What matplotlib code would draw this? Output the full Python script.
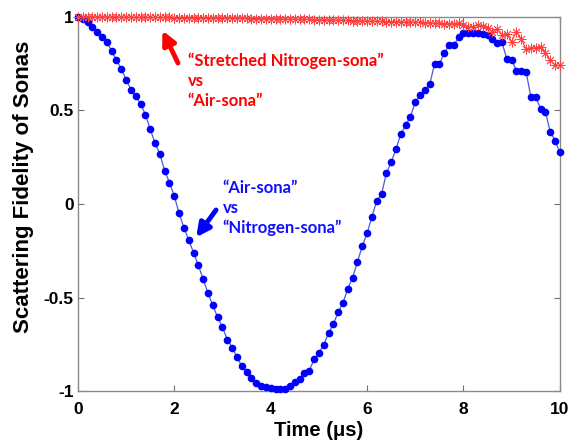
import numpy as np
import matplotlib.pyplot as plt

# Air-sona vs Nitrogen-sona (blue dots)
air_vs_n2 = [1.0, 0.99, 0.973, 0.945, 0.92, 0.89, 0.865, 0.817, 0.768, 0.722,
             0.665, 0.611, 0.575, 0.535, 0.478, 0.401, 0.325, 0.267, 0.178, 0.114,
             0.043, -0.05, -0.127, -0.193, -0.26, -0.328, -0.403, -0.478, -0.542, -0.606,
             -0.659, -0.724, -0.767, -0.817, -0.866, -0.897, -0.927, -0.954, -0.97, -0.977,
             -0.984, -0.988, -0.991, -0.986, -0.973, -0.95, -0.937, -0.902, -0.891, -0.83,
             -0.795, -0.754, -0.691, -0.642, -0.578, -0.528, -0.453, -0.394, -0.309, -0.225,
             -0.157, -0.068, 0.016, 0.052, 0.164, 0.223, 0.294, 0.373, 0.421, 0.467,
             0.544, 0.58, 0.61, 0.64, 0.747, 0.747, 0.806, 0.847, 0.847, 0.891,
             0.915, 0.915, 0.915, 0.915, 0.909, 0.902, 0.881, 0.859, 0.863, 0.775,
             0.77, 0.713, 0.71, 0.706, 0.571, 0.571, 0.51, 0.494, 0.387, 0.339,
             0.276]

# Stretched Nitrogen-sona vs Air-sona (red stars)
stretched_vs_air = [1.0, 1.0, 1.0, 1.0, 1.0, 1.0, 1.0, 0.999, 0.999, 0.999,
                    0.999, 0.999, 0.998, 0.998, 0.998, 0.998, 0.997, 0.997, 0.997, 0.997,
                    0.996, 0.996, 0.996, 0.996, 0.995, 0.995, 0.995, 0.994, 0.994, 0.994,
                    0.993, 0.993, 0.993, 0.992, 0.992, 0.992, 0.991, 0.991, 0.99, 0.99,
                    0.99, 0.989, 0.989, 0.988, 0.988, 0.987, 0.987, 0.986, 0.986, 0.985,
                    0.985, 0.984, 0.983, 0.983, 0.982, 0.981, 0.981, 0.98, 0.979, 0.979,
                    0.978, 0.977, 0.977, 0.976, 0.975, 0.975, 0.974, 0.973, 0.972, 0.971,
                    0.971, 0.97, 0.969, 0.968, 0.966, 0.965, 0.964, 0.963, 0.963, 0.966,
                    0.957, 0.945, 0.948, 0.957, 0.953, 0.94, 0.921, 0.934, 0.904, 0.909,
                    0.868, 0.921, 0.881, 0.827, 0.833, 0.836, 0.841, 0.806, 0.77, 0.743,
                    0.74]

time_us = np.linspace(0, 10, len(air_vs_n2))

xticks = [0, 2, 4, 6, 8, 10]
yticks = [-1, -0.5, 0, 0.5, 1]
ytick_labels = ['-1', '-0.5', '0', '0.5', '1']

plt.rcParams['font.family'] = ['Liberation Sans', 'DejaVu Sans']

fig = plt.figure(figsize=(5.73, 4.43), dpi=100)
ax = fig.add_axes([0.136, 0.117, 0.841, 0.845])

ax.plot(time_us, air_vs_n2, color='#4a5ad8', linewidth=0.9, marker='o',
        markersize=4.5, markerfacecolor='#0000ff', markeredgecolor='#0000ff',
        clip_on=False, zorder=3)
ax.plot(time_us, stretched_vs_air, color='#ff2020', linewidth=0.7, marker=(8, 2, 0),
        markersize=7, markeredgewidth=0.6, markeredgecolor='#ff4040',
        clip_on=False, zorder=4)

ax.set_xlim(0, 10)
ax.set_ylim(-1, 1)
ax.set_xticks(xticks)
ax.set_xticklabels([str(x) for x in xticks])
ax.set_yticks(yticks)
ax.set_yticklabels(ytick_labels)
ax.tick_params(direction='in', length=4, width=0.8, color='#707070', labelsize=12.5)
ax.tick_params(axis='x', pad=8)
ax.tick_params(axis='y', pad=3)
ax.tick_params(top=True, right=True)
for lbl in ax.get_xticklabels() + ax.get_yticklabels():
    lbl.set_fontweight('bold')
for sp in ax.spines.values():
    sp.set_color('#8a8a8a')
    sp.set_linewidth(1.0)

ax.set_xlabel('Time (\u03bcs)', fontsize=14.5, fontweight='bold', labelpad=3)
ax.set_ylabel('Scattering Fidelity of Sonas', fontsize=16, fontweight='bold')
ax.yaxis.set_label_coords(-0.092, 0.545)

# annotations
ax.annotate('', xy=(1.73, 0.94), xytext=(2.1, 0.74),
            arrowprops=dict(arrowstyle='-|>', color='#ff0000', lw=3.5, mutation_scale=20))
ax.text(2.28, 0.81, '\u201cStretched Nitrogen-sona\u201d\nvs\n\u201cAir-sona\u201d',
        color='#ff0000', fontsize=12, fontweight='bold', family=['Lato', 'DejaVu Sans'],
        va='top', ha='left', linespacing=1.3)

ax.annotate('', xy=(2.42, -0.19), xytext=(2.9, -0.02),
            arrowprops=dict(arrowstyle='-|>', color='#0000ff', lw=3.5, mutation_scale=20))
ax.text(3.0, 0.13, '\u201cAir-sona\u201d\nvs\n\u201cNitrogen-sona\u201d',
        color='#1010ff', fontsize=12, fontweight='bold', family=['Lato', 'DejaVu Sans'],
        va='top', ha='left', linespacing=1.3)

fig.savefig('out.png', dpi=100)
